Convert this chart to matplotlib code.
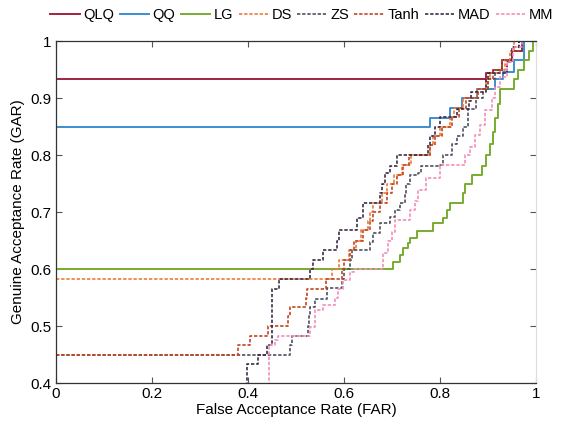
import matplotlib
matplotlib.use("Agg")
import matplotlib.pyplot as plt

plt.rcParams['font.family'] = ['Liberation Sans', 'DejaVu Sans']

# ---- data: (FAR, GAR) step corners; GAR level holds from FAR[i] to FAR[i+1]
qlq_far = [0, 0.895, 0.91, 0.93, 0.95, 0.97, 1.0]
qlq_gar = [0.933, 0.944, 0.95, 0.966, 0.983, 1.0, 1.0]

qq_far = [0, 0.779, 0.82, 0.846, 0.877, 0.915, 0.932, 0.955, 0.975, 1.0]
qq_gar = [0.849, 0.865, 0.883, 0.90, 0.916, 0.933, 0.946, 0.966, 1.0, 1.0]

lg_far = [0, 0.703, 0.717, 0.723, 0.733, 0.738, 0.752, 0.786, 0.806, 0.814, 0.821,
          0.848, 0.852, 0.867, 0.887, 0.895, 0.905, 0.91, 0.915, 0.92, 0.925,
          0.955, 0.962, 0.975, 0.985, 0.993, 1.0]
lg_gar = [0.60, 0.613, 0.625, 0.637, 0.645, 0.654, 0.666, 0.68, 0.689, 0.703, 0.716,
          0.733, 0.75, 0.765, 0.78, 0.80, 0.82, 0.84, 0.865, 0.89, 0.916,
          0.933, 0.95, 0.966, 0.983, 1.0, 1.0]

ds_far = [0, 0.575, 0.59, 0.61, 0.625, 0.635, 0.65, 0.655, 0.66, 0.68, 0.69, 0.705,
          0.72, 0.74, 0.78, 0.785, 0.80, 0.82, 0.83, 0.848, 0.877, 0.895, 0.905,
          0.925, 0.935, 0.945, 0.955, 1.0]
ds_gar = [0.583, 0.60, 0.616, 0.633, 0.65, 0.668, 0.685, 0.70, 0.716, 0.733, 0.75, 0.765,
          0.783, 0.80, 0.817, 0.833, 0.85, 0.867, 0.883, 0.90, 0.916, 0.933, 0.944,
          0.95, 0.966, 0.983, 1.0, 1.0]

zs_far = [0, 0.488, 0.491, 0.525, 0.528, 0.53, 0.54, 0.564, 0.595, 0.60, 0.612, 0.616,
          0.654, 0.66, 0.675, 0.696, 0.706, 0.717, 0.727, 0.73, 0.738, 0.755, 0.76,
          0.80, 0.806, 0.825, 0.835, 0.848, 0.858, 0.875, 0.89, 0.90, 0.915, 0.93,
          0.95, 0.97, 1.0]
zs_gar = [0.45, 0.467, 0.483, 0.50, 0.517, 0.533, 0.548, 0.566, 0.583, 0.60, 0.616, 0.633,
          0.648, 0.663, 0.68, 0.692, 0.703, 0.716, 0.73, 0.75, 0.765, 0.768, 0.78,
          0.783, 0.80, 0.82, 0.833, 0.85, 0.88, 0.90, 0.916, 0.933, 0.95, 0.966,
          0.983, 1.0, 1.0]

tanh_far = [0, 0.38, 0.404, 0.442, 0.484, 0.487, 0.52, 0.522, 0.562, 0.595, 0.60, 0.612,
            0.62, 0.64, 0.654, 0.66, 0.675, 0.69, 0.70, 0.71, 0.723, 0.735, 0.779,
            0.79, 0.804, 0.825, 0.84, 0.855, 0.88, 0.90, 0.91, 0.93, 0.95, 0.965, 1.0]
tanh_gar = [0.45, 0.466, 0.483, 0.50, 0.517, 0.533, 0.55, 0.565, 0.583, 0.60, 0.616, 0.633,
            0.65, 0.668, 0.685, 0.70, 0.716, 0.733, 0.75, 0.765, 0.783, 0.80, 0.817,
            0.833, 0.85, 0.867, 0.883, 0.90, 0.916, 0.933, 0.95, 0.966, 0.983, 1.0, 1.0]

mad_far = [0, 0.397, 0.42, 0.44, 0.45, 0.465, 0.529, 0.536, 0.556, 0.585, 0.59, 0.627,
           0.64, 0.675, 0.68, 0.685, 0.696, 0.71, 0.775, 0.78, 0.79, 0.80, 0.835, 0.86,
           0.865, 0.895, 0.90, 0.94, 0.95, 0.965, 1.0]
mad_gar = [0.30, 0.433, 0.45, 0.467, 0.565, 0.583, 0.60, 0.616, 0.633, 0.65, 0.668, 0.69,
           0.716, 0.733, 0.75, 0.768, 0.78, 0.80, 0.817, 0.833, 0.85, 0.867, 0.88, 0.895,
           0.91, 0.933, 0.944, 0.963, 0.99, 1.0, 1.0]

mm_far = [0, 0.443, 0.456, 0.463, 0.529, 0.54, 0.556, 0.581, 0.587, 0.598, 0.612, 0.62,
          0.682, 0.692, 0.70, 0.706, 0.737, 0.748, 0.755, 0.77, 0.80, 0.852, 0.862,
          0.872, 0.883, 0.894, 0.908, 0.915, 0.925, 0.94, 0.952, 0.97, 1.0]
mm_gar = [0.30, 0.467, 0.475, 0.483, 0.499, 0.528, 0.537, 0.55, 0.565, 0.58, 0.595, 0.60,
          0.628, 0.65, 0.665, 0.686, 0.703, 0.72, 0.738, 0.76, 0.782, 0.80, 0.814,
          0.835, 0.853, 0.879, 0.90, 0.92, 0.937, 0.963, 0.99, 1.0, 1.0]

labels = ['QLQ', 'QQ', 'LG', 'DS', 'ZS', 'Tanh', 'MAD', 'MM']
x_ticks = [0, 0.2, 0.4, 0.6, 0.8, 1]
x_tick_labels = ['0', '0.2', '0.4', '0.6', '0.8', '1']
y_ticks = [0.4, 0.5, 0.6, 0.7, 0.8, 0.9, 1]
y_tick_labels = ['0.4', '0.5', '0.6', '0.7', '0.8', '0.9', '1']

series = [(qlq_far, qlq_gar), (qq_far, qq_gar), (lg_far, lg_gar), (ds_far, ds_gar),
          (zs_far, zs_gar), (tanh_far, tanh_gar), (mad_far, mad_gar), (mm_far, mm_gar)]
colors = ['#a2213f', '#3a8ed0', '#77ac30', '#ee7a3a', '#4f5060', '#c4461e', '#3e2c4a', '#f38fba']
dotted = (0, (2.0, 1.1))
styles = ['-', '-', '-', dotted, dotted, dotted, dotted, dotted]
widths = [1.4, 1.4, 1.4, 1.2, 1.2, 1.2, 1.2, 1.2]

fig = plt.figure(figsize=(5.68, 4.21), dpi=100)
ax = fig.add_axes([56/568, 1-383/421, 480/568, 342/421])

handles = []
for (f, g), c, ls, lw, lab in zip(series, colors, styles, widths, labels):
    h, = ax.step(f, g, where='post', color=c, linestyle=ls, linewidth=lw, label=lab)
    handles.append(h)

ax.set_xlim(0, 1)
ax.set_ylim(0.4, 1)
ax.set_xticks(x_ticks)
ax.set_xticklabels(x_tick_labels)
ax.set_yticks(y_ticks)
ax.set_yticklabels(y_tick_labels)
ax.tick_params(direction='in', top=True, right=True, labelsize=11, length=4,
               color='#555555', pad=3)
for s in ['left', 'bottom', 'top']:
    ax.spines[s].set_color('#333333')
    ax.spines[s].set_linewidth(0.9)
ax.spines['right'].set_color('#dddddd')
ax.set_xlabel('False Acceptance Rate (FAR)', fontsize=11, labelpad=1)
ax.set_ylabel('Genuine Acceptance Rate (GAR)', fontsize=11, labelpad=4)

fig.legend(handles, labels, loc='center', bbox_to_anchor=(0.531, 1-15/421), ncol=8,
           frameon=False, fontsize=10.5, handlelength=2.0, handletextpad=0.25,
           columnspacing=0.38, borderpad=0)

fig.savefig('out.png', dpi=100)
